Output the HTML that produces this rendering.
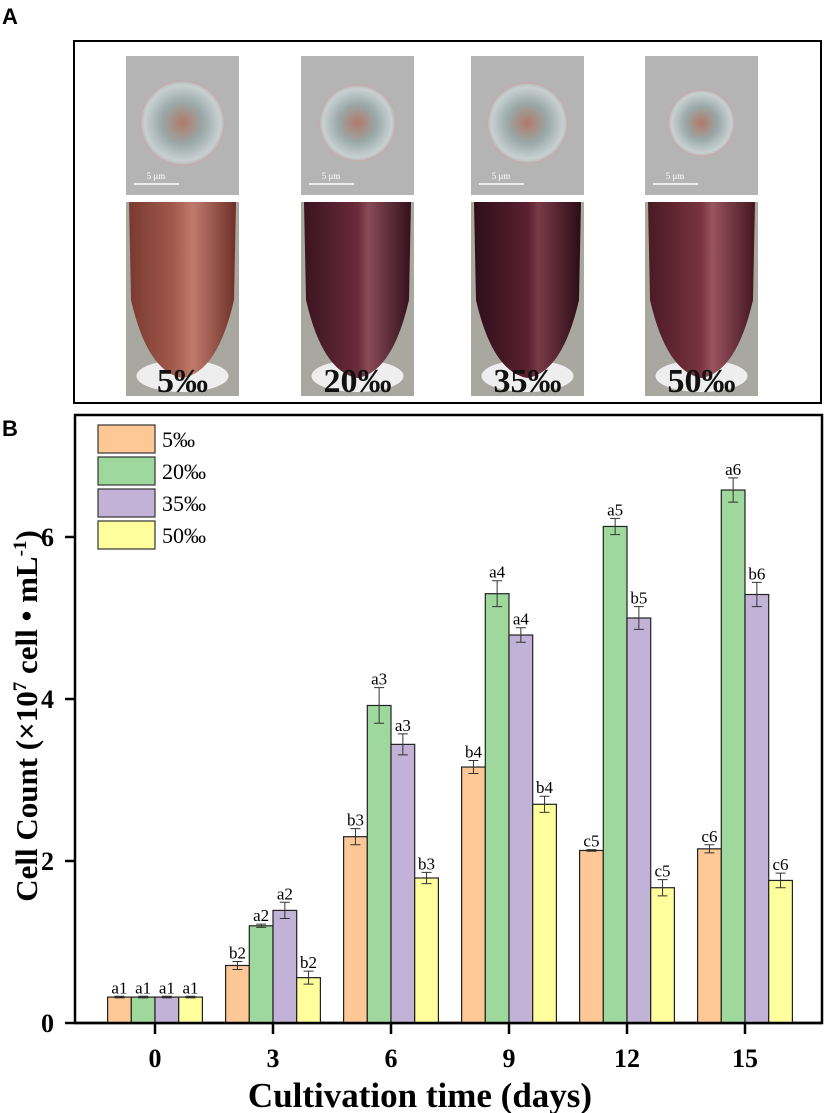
<!DOCTYPE html>
<html><head><meta charset="utf-8"><style>
body{margin:0;background:#fff;width:827px;height:1113px;overflow:hidden}
svg{display:block}
</style></head><body>
<svg id="fig" width="827" height="1113" font-family="Liberation Serif, serif">
<defs>
<linearGradient id="tube1" x1="0" x2="1"><stop offset="0" stop-color="#7a3a30"/><stop offset="0.4" stop-color="#a0584a"/><stop offset="0.6" stop-color="#c07a6c"/><stop offset="1" stop-color="#6e3028"/></linearGradient>
<linearGradient id="tube2" x1="0" x2="1"><stop offset="0" stop-color="#3a1420"/><stop offset="0.5" stop-color="#6a2a3a"/><stop offset="0.6" stop-color="#8a4a58"/><stop offset="1" stop-color="#34101c"/></linearGradient>
<linearGradient id="tube3" x1="0" x2="1"><stop offset="0" stop-color="#2e0e1a"/><stop offset="0.5" stop-color="#5a2030"/><stop offset="0.6" stop-color="#7a3a48"/><stop offset="1" stop-color="#2a0c16"/></linearGradient>
<linearGradient id="tube4" x1="0" x2="1"><stop offset="0" stop-color="#4a1a22"/><stop offset="0.5" stop-color="#7a3440"/><stop offset="0.6" stop-color="#9a5460"/><stop offset="1" stop-color="#44161e"/></linearGradient>
<radialGradient id="cell"><stop offset="0" stop-color="#b07a68"/><stop offset="0.5" stop-color="#9aa8a8"/><stop offset="0.9" stop-color="#c8d0d0"/><stop offset="1" stop-color="#b8b8b8"/></radialGradient>
</defs>
<text x="2" y="24" font-family="Liberation Sans, sans-serif" font-weight="bold" font-size="22">A</text>
<rect x="74" y="41" width="747" height="362" fill="none" stroke="#000" stroke-width="2"/>
<g id="photos"></g>
<text x="2" y="436" font-family="Liberation Sans, sans-serif" font-weight="bold" font-size="22">B</text>
<g id="chart"></g>
</svg>
<script>
const categories = ['0','3','6','9','12','15'];
const seriesNames = ['5‰','20‰','35‰','50‰'];
const s5 = [0.32,0.71,2.30,3.16,2.13,2.15];
const s20 = [0.32,1.20,3.92,5.30,6.13,6.58];
const s35 = [0.32,1.39,3.44,4.79,5.00,5.29];
const s50 = [0.32,0.56,1.79,2.70,1.67,1.76];
const e5 = [0.01,0.05,0.10,0.08,0.01,0.05];
const e20 = [0.01,0.02,0.22,0.16,0.10,0.15];
const e35 = [0.01,0.10,0.13,0.09,0.14,0.15];
const e50 = [0.01,0.08,0.07,0.10,0.10,0.09];
const l5 = ['a1','b2','b3','b4','c5','c6'];
const l20 = ['a1','a2','a3','a4','a5','a6'];
const l35 = ['a1','a2','a3','a4','b5','b6'];
const l50 = ['a1','b2','b3','b4','c5','c6'];
const yTicks = [0,2,4,6];
const photoLabels = ['5‰','20‰','35‰','50‰'];

const NS='http://www.w3.org/2000/svg';
function mk(tag,attrs,parent,txt){const e=document.createElementNS(NS,tag);for(const k in attrs)e.setAttribute(k,attrs[k]);if(txt!==undefined)e.textContent=txt;parent.appendChild(e);return e;}

const ph=document.getElementById('photos');
const px=[126,301,471,645];
const tg=['tube1','tube2','tube3','tube4'];
photoLabels.forEach((lab,i)=>{
  const x=px[i], w=113;
  const g=mk('g',{},ph);
  
  
  const m=mk('rect',{x:x,y:56,width:w,height:139,fill:'#b4b4b4'},g);
  
  
  const r=[42,38,40,33][i];
  mk('circle',{cx:x+w/2,cy:123,r:r,fill:'url(#cell)',stroke:'#c8a8a8'},g);
  mk('line',{x1:x+8,y1:184,x2:x+53,y2:184,stroke:'#fff','stroke-width':1.5},g);
  mk('text',{x:x+30,y:179,'font-size':9,fill:'#fff','text-anchor':'middle'},g,'5 μm');
  const t=mk('rect',{x:x,y:202,width:w,height:194,fill:'#a8a8a0'},g);
  
  
  mk('ellipse',{cx:x+w/2,cy:376,rx:46,ry:16,fill:'#eee'},g);
  mk('path',{d:`M${x+3} 202 L${x+w-3} 202 L${x+w-5} 300 Q${x+w/2+35} 372 ${x+w/2} 378 Q${x+w/2-35} 372 ${x+5} 300 Z`,fill:'url(#'+tg[i]+')'},g);
  const tx=mk('text',{x:x+w/2,y:392,'font-size':34,'font-weight':'bold','text-anchor':'middle',fill:'#111'},g,lab);
  
  
});

const ch=document.getElementById('chart');
const X0=75,X1=822,Y0=1023,T=415;
const yScale=v=>Y0-v*81;
const catX=i=>155+i*118;
const bw=23.7;
const series=[s5,s20,s35,s50], errs=[e5,e20,e35,e50], labs=[l5,l20,l35,l50];
const colors=['#fdc796','#9ed89d','#c3b2d8','#fefe9c'];
const fr=mk('rect',{x:X0,y:T,width:X1-X0,height:Y0-T,fill:'none',stroke:'#000','stroke-width':2.5},ch);


series.forEach((s,si)=>{
  s.forEach((v,ci)=>{
    const x=catX(ci)-2*bw+si*bw;
    const b=mk('rect',{x:x,y:yScale(v),width:bw,height:Y0-yScale(v),fill:colors[si],stroke:'#222','stroke-width':1.2},ch);
    
    
    const cx=x+bw/2, e=errs[si][ci];
    const eb=mk('path',{d:`M${cx} ${yScale(v+e)} V${yScale(v-e)} M${cx-5} ${yScale(v+e)} H${cx+5} M${cx-5} ${yScale(v-e)} H${cx+5}`,stroke:'#333','stroke-width':1,fill:'none'},ch);
    
    
    const lt=mk('text',{x:cx,y:yScale(v+e)-3,'font-size':17,'text-anchor':'middle'},ch,labs[si][ci]);
    
    
  });
});
mk('line',{x1:X0,y1:Y0,x2:X1,y2:Y0,stroke:'#000','stroke-width':2.5},ch);
yTicks.forEach(t=>{
  const y=yScale(t);
  mk('line',{x1:X0-10,y1:y,x2:X0,y2:y,stroke:'#000','stroke-width':2.5},ch);
  const tt=mk('text',{x:X0-21,y:y+9,'font-size':26,'font-weight':'bold','text-anchor':'end'},ch,String(t));
  
  
});
categories.forEach((c,i)=>{
  const x=catX(i);
  mk('line',{x1:x,y1:Y0,x2:x,y2:Y0+11,stroke:'#000','stroke-width':2.5},ch);
  const tt=mk('text',{x:x,y:Y0+44,'font-size':26,'font-weight':'bold','text-anchor':'middle'},ch,c);
  
  
});
const xt=mk('text',{x:420,y:1107,'font-size':35,'font-weight':'bold','text-anchor':'middle'},ch,'Cultivation time (days)');


const yt=mk('text',{x:0,y:0,'font-size':31,'font-weight':'bold','text-anchor':'middle',transform:'translate(37,716) rotate(-90)'},ch);


yt.innerHTML='Cell Count (×10<tspan dy="-11" font-size="19">7</tspan><tspan dy="11"> cell • mL</tspan><tspan dy="-11" font-size="19">-1</tspan><tspan dy="11">)</tspan>';
seriesNames.forEach((n,i)=>{
  const y=425+i*32;
  const g=mk('g',{},ch);
  
  
  mk('rect',{x:98,y:y,width:57,height:28,fill:colors[i],stroke:'#333','stroke-width':1.2},g);
  mk('text',{x:162,y:y+22,'font-size':22},g,n);
});
</script>
</body></html>
